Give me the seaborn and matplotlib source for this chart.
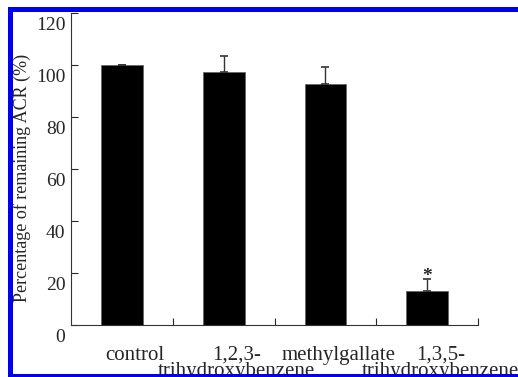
import pandas as pd
import seaborn as sns
import matplotlib.pyplot as plt
import matplotlib.transforms as mtransforms
from matplotlib.patches import Rectangle

# Data
compounds = ["control", "1,2,3-\ntrihydroxybenzene", "methylgallate", "1,3,5-\ntrihydroxybenzene"]
remaining = [100.0, 97.4, 92.8, 13.1]
errors = [0.0, 5.9, 6.2, 4.4]
significant = [False, False, False, True]
y_ticks = [0, 20, 40, 60, 80, 100, 120]

if __name__ == '__main__':
    sns.set_style("ticks")
    plt.rcParams['font.family'] = ['Liberation Serif', 'DejaVu Serif']

    df = pd.DataFrame({'compound': compounds, 'remaining': remaining})

    fig = plt.figure(figsize=(5.18, 3.77), dpi=100)
    ax = fig.add_axes([0.137, 0.138, 0.786, 0.828])

    sns.barplot(data=df, x='compound', y='remaining', color='black', width=0.41,
                saturation=1, edgecolor='#666666', linewidth=0.6, ax=ax)

    pos = list(range(len(compounds)))
    ax.errorbar(pos, remaining, yerr=[[0] * len(errors), errors], fmt='none',
                ecolor='#333333', elinewidth=1.0, capsize=3, capthick=1.2)

    # significance marks
    for x, v, e, s in zip(pos, remaining, errors, significant):
        if s:
            ax.annotate('*', (x, v + e), xytext=(0, -4), textcoords='offset points',
                        ha='center', va='bottom', fontsize=14, fontweight='bold')

    ax.set_xlim(-0.5, len(compounds) - 0.5)
    ax.set_ylim(0, 120)
    ax.set_yticks(y_ticks)
    ax.set_xlabel('')
    ax.set_ylabel('Percentage of remaining ACR (%)', fontsize=13)
    ax.yaxis.set_label_coords(-0.098, 0.47)

    # ticks: y ticks inside, x ticks only between categories
    ax.tick_params(axis='y', direction='in', length=5, width=0.8, labelsize=14, pad=4)
    ax.tick_params(axis='x', which='major', length=0, labelsize=15, pad=15)
    ax.set_xticks([p + 0.5 for p in pos], minor=True)
    ax.tick_params(axis='x', which='minor', direction='in', length=5, width=0.8)

    # labels in the original sit a little right of / below their ticks
    xshift = mtransforms.ScaledTranslation(13 / 100, 0, fig.dpi_scale_trans)
    for lab in ax.get_xticklabels():
        lab.set_linespacing(0.8)
        lab.set_transform(lab.get_transform() + xshift)
    yshift = mtransforms.ScaledTranslation(0, -11 / 100, fig.dpi_scale_trans)
    for lab in ax.get_yticklabels():
        lab.set_transform(lab.get_transform() + yshift)

    sns.despine(ax=ax)
    for side in ['left', 'bottom']:
        ax.spines[side].set_linewidth(0.8)
        ax.spines[side].set_color('#333333')

    # blue frame pieces from the page crop
    blue = '#0000ee'
    W, H = 518, 377
    frame = dict(transform=fig.transFigure, facecolor=blue, linewidth=0, zorder=10)
    fig.add_artist(Rectangle((8 / W, 0), 5 / W, 1 - 7 / H, **frame))
    fig.add_artist(Rectangle((8 / W, 1 - 12 / H), 1 - 8 / W, 5 / H, **frame))
    fig.add_artist(Rectangle((8 / W, 0), 1 - 8 / W, 3 / H, **frame))

    fig.savefig('out.png', dpi=100)
